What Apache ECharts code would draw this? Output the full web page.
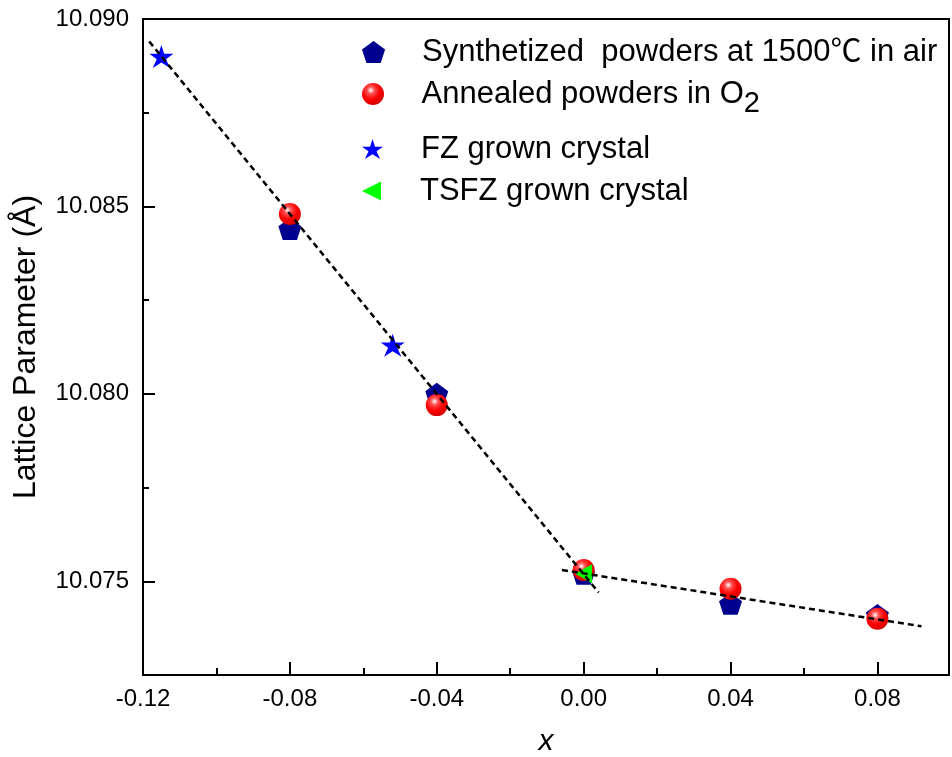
<!DOCTYPE html>
<html>
<head>
<meta charset="utf-8">
<title>Lattice parameter vs x</title>
<script src="https://cdn.jsdelivr.net/npm/echarts@6.0.0/dist/echarts.min.js"></script>
<style>
  html, body { margin: 0; padding: 0; background: #fff; }
  #graph1 { width: 952px; height: 757px; }
</style>
</head>
<body>
<div id="graph1"></div>
<script>
// values
var synX = [-0.08, -0.04, 0.00, 0.04, 0.08];
var synY = [10.0844, 10.0800, 10.0752, 10.0744, 10.0741];
var annX = [-0.08, -0.04, 0.00, 0.04, 0.08];
var annY = [10.0848, 10.0797, 10.0753, 10.0748, 10.0740];
var fzX = [-0.115, -0.052];
var fzY = [10.0890, 10.0813];
var tsfzX = [0.00];
var tsfzY = [10.0752];
// the two dashed guide lines (end points)
var fit1X = [-0.1183, 0.0041];
var fit1Y = [10.0894, 10.0747];
var fit2X = [-0.0059, 0.0920];
var fit2Y = [10.0753, 10.0738];

var names = [
    'Synthetized  powders at 1500℃ in air',
    'Annealed powders in O2',
    'FZ grown crystal',
    'TSFZ grown crystal'
];

function pairs(xs, ys) {
    var out = [];
    for (var i = 0; i < xs.length; ++i) {
        out.push([xs[i], ys[i]]);
    }
    return out;
}

var FONT = '"Liberation Sans", Arial, "Noto Sans CJK SC", sans-serif';
var PENTAGON = 'path://M10,0L19.51,6.91L15.88,18.09L4.12,18.09L0.49,6.91Z';
var STAR = 'path://M10,0L12.245,6.91L19.511,6.91L13.633,11.18L16.878,18.09L10,13.82L3.122,18.09L6.367,11.18L0.489,6.91L7.755,6.91Z';
var TRI_LEFT = 'path://M0,5L10,0L10,10Z';

var sphere = new echarts.graphic.RadialGradient(0.4, 0.33, 0.75, [
    {offset: 0, color: '#ffffff'},
    {offset: 0.22, color: '#ff5050'},
    {offset: 0.55, color: '#ff0000'},
    {offset: 1, color: '#c80000'}
]);

function legendAt(name, top, h) {
    return {
        data: [name],
        left: 362,
        top: top,
        padding: 0,
        itemWidth: 87,
        itemHeight: h,
        symbolKeepAspect: true,
        selectedMode: false,
        formatter: function (n) {
            return n === names[1] ? 'Annealed powders in O{s|2}' : n;
        },
        textStyle: {
            fontSize: 31,
            color: '#000',
            fontFamily: FONT,
            rich: {
                s: {fontSize: 29, color: '#000', fontFamily: FONT, padding: [20, 0, 0, 0]}
            }
        }
    };
}

var mychart = echarts.init(document.querySelector("#graph1"));

option = {
    animation: false,
    backgroundColor: '#fff',
    grid: [
        {left: 143, top: 19, width: 806, height: 656, outerBoundsMode: 'none',
         show: true, borderColor: '#000', borderWidth: 2},
        // helper grid covering 10.075 - 10.090 only, for the long y ticks and labels
        {left: 143, top: 19, width: 806, height: 656 * 0.015 / 0.0175, outerBoundsMode: 'none', show: false}
    ],
    legend: [
        legendAt(names[0], 51 - 14.5, 22),
        legendAt(names[1], 93 - 14.5, 22),
        legendAt(names[2], 148 - 14.5, 20),
        legendAt(names[3], 190 - 14.5, 19)
    ],
    xAxis: [
        {
            gridIndex: 0,
            type: 'value',
            position: 'bottom',
            min: -0.12,
            max: 0.0995,
            interval: 0.04,
            name: 'x',
            nameLocation: 'middle',
            nameGap: 52,
            nameTextStyle: {fontSize: 30, fontStyle: 'italic', color: '#000', fontFamily: FONT},
            axisLine: {onZero: false, lineStyle: {color: '#000', width: 2}},
            axisTick: {inside: true, length: 13, lineStyle: {color: '#000', width: 2}},
            axisLabel: {
                fontSize: 24, color: '#000', fontFamily: FONT, margin: 12,
                showMaxLabel: false,
                formatter: function (v) {
                    var k = Math.round(v * 100);
                    return (k % 4 === 0 && v < 0.09) ? v.toFixed(2) : '';
                }
            },
            splitLine: {show: false}
        },
        {
            gridIndex: 0,
            type: 'value',
            position: 'bottom',
            min: -0.12,
            max: 0.0995,
            interval: 0.02,
            axisLine: {show: false, onZero: false},
            axisTick: {inside: true, length: 7, lineStyle: {color: '#000', width: 2}},
            axisLabel: {show: false},
            splitLine: {show: false}
        },
        {
            gridIndex: 1,
            type: 'value',
            show: false,
            min: -0.12,
            max: 0.0995,
            axisLine: {onZero: false}
        }
    ],
    yAxis: [
        {
            gridIndex: 0,
            type: 'value',
            position: 'left',
            min: 10.0725,
            max: 10.090,
            interval: 0.0025,
            name: 'Lattice Parameter (Å)',
            nameLocation: 'middle',
            nameGap: 101,
            nameTextStyle: {fontSize: 32, color: '#000', fontFamily: FONT},
            axisLine: {onZero: false, lineStyle: {color: '#000', width: 2}},
            axisTick: {inside: true, length: 6, lineStyle: {color: '#000', width: 2}},
            axisLabel: {show: false},
            splitLine: {show: false}
        },
        {
            gridIndex: 1,
            type: 'value',
            position: 'left',
            min: 10.075,
            max: 10.090,
            interval: 0.005,
            axisLine: {show: false, onZero: false},
            axisTick: {inside: true, length: 12, lineStyle: {color: '#000', width: 2}},
            axisLabel: {
                fontSize: 24, color: '#000', fontFamily: FONT, margin: 14,
                formatter: function (v) {
                    return v.toFixed(3);
                }
            },
            splitLine: {show: false}
        }
    ],
    series: [
        {
            name: names[0],
            type: 'scatter',
            xAxisIndex: 0, yAxisIndex: 0,
            symbol: PENTAGON,
            symbolSize: [23, 22],
            itemStyle: {color: '#00008e', opacity: 1},
            data: pairs(synX, synY),
            z: 2
        },
        {
            name: names[1],
            type: 'scatter',
            xAxisIndex: 0, yAxisIndex: 0,
            symbol: 'circle',
            symbolSize: 22,
            itemStyle: {color: sphere, opacity: 1},
            data: pairs(annX, annY),
            z: 3
        },
        {
            name: names[2],
            type: 'scatter',
            xAxisIndex: 0, yAxisIndex: 0,
            symbol: STAR,
            symbolSize: [24, 23],
            itemStyle: {color: '#0000ff', opacity: 1},
            data: pairs(fzX, fzY),
            z: 3
        },
        {
            name: names[3],
            type: 'scatter',
            xAxisIndex: 0, yAxisIndex: 0,
            symbol: TRI_LEFT,
            symbolSize: [17, 19],
            itemStyle: {color: '#00ff00', opacity: 1},
            data: pairs(tsfzX, tsfzY),
            z: 4
        },
        {
            name: 'fit1',
            type: 'line',
            xAxisIndex: 0, yAxisIndex: 0,
            symbol: 'none',
            silent: true,
            lineStyle: {color: '#000', width: 2.5, type: [6, 4]},
            data: pairs(fit1X, fit1Y),
            z: 5
        },
        {
            name: 'fit2',
            type: 'line',
            xAxisIndex: 0, yAxisIndex: 0,
            symbol: 'none',
            silent: true,
            lineStyle: {color: '#000', width: 2.5, type: [6, 4]},
            data: pairs(fit2X, fit2Y),
            z: 5
        }
    ]
};

mychart.setOption(option);

window.addEventListener("resize", function () {
    mychart.resize();
});
</script>
</body>
</html>
